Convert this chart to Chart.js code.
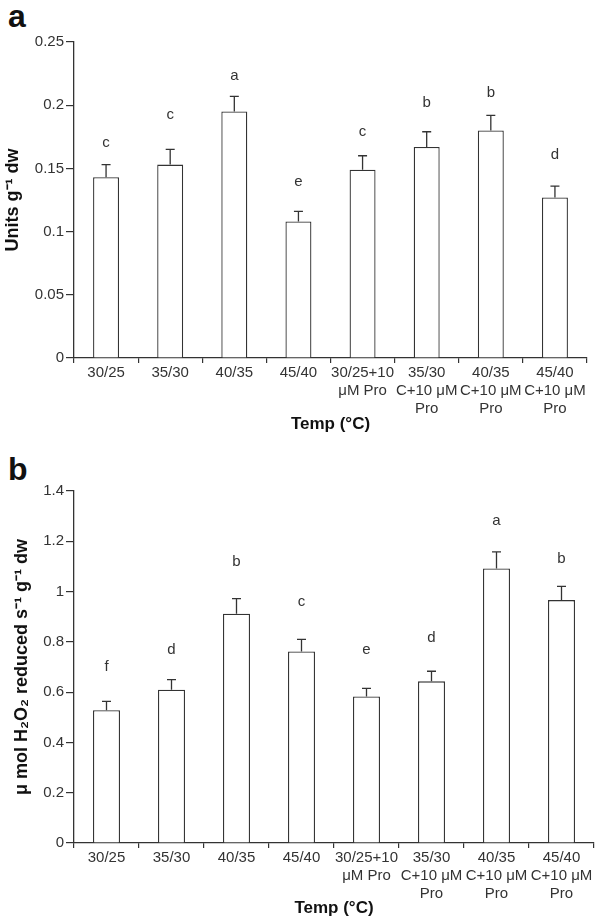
<!DOCTYPE html>
<html>
<head>
<meta charset="utf-8">
<script src="https://cdn.jsdelivr.net/npm/chart.js@4.4.1/dist/chart.umd.min.js"></script>
<style>
  body { margin: 0; background: #fff; width: 597px; height: 919px; position: relative; overflow: hidden;
         font-family: "Liberation Sans", Arial, sans-serif; }
  canvas { position: absolute; left: 0; }
  #chartA { top: 0; }
  #chartB { top: 460px; }
  .panel { position: absolute; left: 8px; font-weight: bold; font-size: 32px; line-height: 1; color: #111; }
</style>
</head>
<body>
<div class="panel" style="top:0px">a</div>
<div class="panel" style="top:453px">b</div>
<canvas id="chartA" width="597" height="450"></canvas>
<canvas id="chartB" width="597" height="459"></canvas>
<script>
// categories (same for both panels)
const categories = [
  ['30/25'], ['35/30'], ['40/35'], ['45/40'],
  ['30/25+10', 'μM Pro'],
  ['35/30', 'C+10 μM', 'Pro'],
  ['40/35', 'C+10 μM', 'Pro'],
  ['45/40', 'C+10 μM', 'Pro']
];

// panel a : Units g-1 dw
const meansA   = [0.143, 0.153, 0.195, 0.108, 0.149, 0.167, 0.180, 0.127];
const errsA    = [0.010, 0.012, 0.012, 0.008, 0.011, 0.012, 0.012, 0.009];
const lettersA = ['c', 'c', 'a', 'e', 'c', 'b', 'b', 'd'];
const letterYA = [0.170, 0.192, 0.223, 0.139, 0.179, 0.202, 0.210, 0.161];
const yTicksA  = [0, 0.05, 0.1, 0.15, 0.2, 0.25];

// panel b : umol H2O2 reduced s-1 g-1 dw
const meansB   = [0.528, 0.610, 0.912, 0.762, 0.583, 0.643, 1.092, 0.966];
const errsB    = [0.035, 0.040, 0.060, 0.048, 0.032, 0.040, 0.066, 0.055];
const lettersB = ['f', 'd', 'b', 'c', 'e', 'd', 'a', 'b'];
const letterYB = [0.700, 0.770, 1.118, 0.960, 0.770, 0.815, 1.280, 1.130];
const yTicksB  = [0, 0.2, 0.4, 0.6, 0.8, 1, 1.2, 1.4];

const ink = '#333';
const tickFont = { family: '"Liberation Sans", Arial, sans-serif', size: 15, lineHeight: 1.2 };
const titleFont = { family: '"Liberation Sans", Arial, sans-serif', size: 17, weight: 'bold', lineHeight: 1.2 };
const yTitleFont = { family: '"Liberation Sans", Arial, sans-serif', size: 18, weight: 'bold', lineHeight: 1.2 };

// error bars (upper half only) + significance letters
const errorBars = {
  id: 'errorBars',
  afterDatasetsDraw(chart, args, o) {
    const { ctx, scales: { x, y } } = chart;
    ctx.save();
    ctx.strokeStyle = ink;
    ctx.lineWidth = 1.3;
    ctx.fillStyle = ink;
    ctx.font = '15px "Liberation Sans", Arial, sans-serif';
    ctx.textAlign = 'center';
    ctx.textBaseline = 'middle';
    o.means.forEach((m, i) => {
      const px = x.getPixelForValue(i);
      const y0 = y.getPixelForValue(m);
      const y1 = y.getPixelForValue(m + o.errs[i]);
      ctx.beginPath();
      ctx.moveTo(px, y0);
      ctx.lineTo(px, y1);
      ctx.moveTo(px - 4.5, y1);
      ctx.lineTo(px + 4.5, y1);
      ctx.stroke();
      ctx.fillText(o.letters[i], px, y.getPixelForValue(o.letterY[i]));
    });
    ctx.restore();
  }
};

function makeChart(id, cfg) {
  return new Chart(document.getElementById(id), {
    type: 'bar',
    data: {
      labels: categories,
      datasets: [{
        data: cfg.means,
        backgroundColor: '#fff',
        borderColor: ink,
        borderWidth: 1.3,
        barPercentage: cfg.barPct,
        categoryPercentage: 1
      }]
    },
    options: {
      responsive: false,
      animation: false,
      layout: { padding: cfg.padding },
      plugins: {
        legend: { display: false },
        tooltip: { enabled: false },
        errorBars: { means: cfg.means, errs: cfg.errs, letters: cfg.letters, letterY: cfg.letterY }
      },
      scales: {
        x: {
          offset: true,
          afterFit: (s) => { s.height = cfg.xHeight; },
          ticks: { font: tickFont, color: ink, padding: 1, maxRotation: 0, autoSkip: false },
          grid: { offset: true, drawOnChartArea: false, tickLength: 5, color: ink, lineWidth: 1.2 },
          border: { color: ink, width: 1.3 },
          title: { display: true, text: 'Temp (°C)', font: titleFont, color: '#111', padding: 0 }
        },
        y: {
          min: 0,
          max: cfg.yTicks[cfg.yTicks.length - 1],
          afterFit: (s) => { s.width = 74; },
          afterBuildTicks: (s) => { s.ticks = cfg.yTicks.map(v => ({ value: v })); },
          ticks: { font: tickFont, color: ink, padding: 2, callback: (v) => String(+v.toFixed(2)) },
          grid: { drawOnChartArea: false, tickLength: 8, color: ink, lineWidth: 1.2 },
          border: { color: ink, width: 1.3 },
          title: { display: true, text: cfg.yTitle, font: yTitleFont, color: '#111', padding: { top: cfg.yTitlePad } }
        }
      }
    },
    plugins: [errorBars]
  });
}

makeChart('chartA', {
  means: meansA, errs: errsA, letters: lettersA, letterY: letterYA, yTicks: yTicksA,
  yTitle: 'Units g⁻¹ dw', yTitlePad: 2,
  barPct: 0.405, xHeight: 76.2,
  padding: { top: 42, right: 10, bottom: 15.8, left: 0 }
});

makeChart('chartB', {
  means: meansB, errs: errsB, letters: lettersB, letterY: letterYB, yTicks: yTicksB,
  yTitle: 'μ mol H₂O₂ reduced s⁻¹ g⁻¹ dw', yTitlePad: 11,
  barPct: 0.415, xHeight: 76,
  padding: { top: 31, right: 3, bottom: 0, left: 0 }
});
</script>
</body>
</html>
